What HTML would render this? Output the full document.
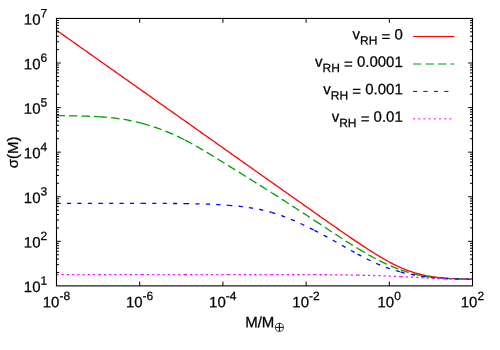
<!DOCTYPE html>
<html><head><meta charset="utf-8"><title>plot</title>
<style>
html,body{margin:0;padding:0;background:#fff;}
body{width:500px;height:350px;overflow:hidden;}
svg{display:block;font-family:"Liberation Sans",sans-serif;font-size:15px;fill:#000;will-change:transform;}
path{fill:none;stroke-width:1;}
.c path{stroke-width:1.3;}
text{stroke:#000;stroke-width:0.25px;}
</style></head><body>
<svg width="500" height="350" viewBox="0 0 500 350">
<rect width="500" height="350" fill="#fff"/>
<g class="c">
<path d="M56.5,30.23 58.0,31.26 59.4,32.29 60.9,33.32 62.3,34.35 63.8,35.38 65.2,36.40 66.7,37.43 68.1,38.46 69.6,39.49 71.1,40.52 72.5,41.55 74.0,42.57 75.4,43.60 76.9,44.63 78.3,45.66 79.8,46.69 81.2,47.72 82.7,48.74 84.1,49.77 85.6,50.80 87.1,51.83 88.5,52.86 90.0,53.89 91.4,54.91 92.9,55.94 94.3,56.97 95.8,58.00 97.2,59.03 98.7,60.06 100.2,61.11 101.7,62.16 103.2,63.21 104.7,64.26 106.1,65.31 107.6,66.37 109.1,67.42 110.6,68.47 112.1,69.52 113.6,70.57 115.1,71.62 116.6,72.67 118.0,73.73 119.5,74.78 121.0,75.83 122.5,76.88 124.0,77.93 125.5,78.98 127.0,80.04 128.5,81.09 129.9,82.14 131.4,83.19 132.9,84.24 134.4,85.29 135.9,86.34 137.4,87.40 138.9,88.45 140.4,89.50 141.8,90.55 143.3,91.60 144.8,92.65 146.3,93.71 147.8,94.76 149.3,95.81 150.8,96.86 152.3,97.91 153.8,98.96 155.2,100.01 156.7,101.07 158.2,102.12 159.7,103.17 161.2,104.22 162.7,105.27 164.2,106.32 165.7,107.37 167.1,108.43 168.6,109.48 170.1,110.53 171.6,111.58 173.1,112.63 174.6,113.68 176.1,114.74 177.6,115.79 179.0,116.84 180.5,117.89 182.0,118.94 183.5,119.99 185.0,121.04 186.5,122.10 188.0,123.15 189.5,124.20 191.0,125.25 192.4,126.30 193.9,127.35 195.4,128.41 196.9,129.46 198.4,130.51 199.9,131.56 201.4,132.61 202.9,133.66 204.3,134.71 205.8,135.77 207.3,136.82 208.8,137.87 210.3,138.92 211.8,139.97 213.3,141.02 214.8,142.08 216.2,143.13 217.7,144.18 219.2,145.23 220.7,146.28 222.2,147.33 223.7,148.38 225.2,149.44 226.7,150.49 228.2,151.54 229.6,152.59 231.1,153.64 232.6,154.69 234.1,155.74 235.6,156.80 237.1,157.85 238.6,158.90 240.1,159.95 241.5,161.00 243.0,162.05 244.5,163.10 246.0,164.16 247.5,165.21 249.0,166.26 250.5,167.31 252.0,168.36 253.4,169.41 254.9,170.46 256.4,171.52 257.9,172.57 259.4,173.62 260.9,174.67 262.4,175.72 263.9,176.77 265.3,177.82 266.8,178.87 268.3,179.93 269.8,180.98 271.3,182.03 272.8,183.08 274.3,184.13 275.8,185.18 277.3,186.23 278.7,187.28 280.2,188.33 281.7,189.39 283.2,190.44 284.7,191.49 286.2,192.54 287.7,193.59 289.2,194.64 290.6,195.69 292.1,196.74 293.6,197.79 295.1,198.84 296.6,199.89 298.1,200.94 299.6,201.99 301.1,203.04 302.5,204.09 304.0,205.14 305.5,206.19 307.0,207.23 308.5,208.28 310.0,209.33 311.5,210.38 313.0,211.43 314.4,212.47 315.9,213.52 317.4,214.57 318.9,215.61 320.4,216.66 321.9,217.70 323.4,218.75 324.9,219.79 326.4,220.83 327.8,221.87 329.3,222.91 330.8,223.95 332.3,224.99 333.8,226.03 335.3,227.07 336.8,228.10 338.3,229.14 339.7,230.17 341.2,231.20 342.7,232.23 344.2,233.26 345.7,234.29 347.2,235.31 348.7,236.33 350.2,237.35 351.6,238.36 353.1,239.38 354.6,240.39 356.1,241.39 357.6,242.39 359.1,243.39 360.6,244.38 362.1,245.37 363.6,246.35 365.0,247.33 366.5,248.30 368.0,249.27 369.5,250.22 371.0,251.17 372.5,252.11 374.0,253.05 375.5,253.97 376.9,254.88 378.4,255.79 379.9,256.68 381.4,257.56 382.9,258.43 384.4,259.28 385.9,260.13 387.4,260.95 388.8,261.76 390.3,262.56 391.8,263.33 393.3,264.10 394.8,264.84 396.3,265.56 397.8,266.26 399.3,266.95 400.7,267.61 402.2,268.25 403.7,268.88 405.2,269.47 406.7,270.05 408.2,270.61 409.7,271.14 411.2,271.65 412.7,272.14 414.1,272.60 415.6,273.05 417.1,273.47 418.6,273.87 420.1,274.25 421.6,274.61 423.1,274.95 424.6,275.27 426.0,275.58 427.5,275.86 429.0,276.13 430.5,276.38 432.0,276.61 433.5,276.83 435.0,277.04 436.5,277.23 437.9,277.41 439.4,277.58 440.9,277.73 442.4,277.88 443.9,278.01 445.3,278.13 446.8,278.24 448.2,278.34 449.6,278.44 451.0,278.53 452.5,278.61 453.9,278.69 455.3,278.76 456.8,278.83 458.2,278.89 459.6,278.94 461.1,279.00 462.5,279.04 463.9,279.09 465.3,279.13 466.8,279.17 468.2,279.20 469.6,279.24 471.1,279.27 472.5,279.30" stroke="#ff0000"/>
<g stroke="#00a000" stroke-dasharray="8.33 4.17"><path d="M56.5,115.52 58.0,115.56 59.4,115.61 60.9,115.65 62.3,115.68 63.8,115.72 65.2,115.75 66.7,115.78 68.1,115.81 69.6,115.83 71.1,115.86 72.5,115.89 74.0,115.91 75.4,115.94 76.9,115.96 78.3,115.99 79.8,116.02 81.2,116.05 82.7,116.09 84.1,116.12 85.6,116.16 87.1,116.20 88.5,116.25 90.0,116.30 91.4,116.35 92.9,116.41 94.3,116.47 95.8,116.54 97.2,116.61 98.7,116.70" stroke-width="1.10"/><path d="M98.7,116.70 100.2,116.78 101.7,116.88 103.2,116.99 104.7,117.10 106.1,117.22 107.6,117.35 109.1,117.49 110.6,117.63 112.1,117.79 113.6,117.96 115.1,118.14 116.6,118.33 118.0,118.53 119.5,118.75 121.0,118.97 122.5,119.21 124.0,119.45 125.5,119.71 127.0,119.98 128.5,120.26 129.9,120.56 131.4,120.86 132.9,121.18 134.4,121.51 135.9,121.85 137.4,122.20 138.9,122.56 140.4,122.94 141.8,123.33" stroke-width="1.16"/><path d="M141.8,123.33 143.3,123.73 144.8,124.14 146.3,124.56 147.8,125.00 149.3,125.45 150.8,125.91 152.3,126.38 153.8,126.87 155.2,127.37 156.7,127.88 158.2,128.41 159.7,128.94 161.2,129.49 162.7,130.05 164.2,130.63 165.7,131.22 167.1,131.82 168.6,132.43 170.1,133.06 171.6,133.70 173.1,134.35 174.6,135.02 176.1,135.69 177.6,136.39 179.0,137.09 180.5,137.81 182.0,138.54 183.5,139.29 185.0,140.05" stroke-width="1.29"/><path d="M185.0,140.05 186.5,140.82 188.0,141.61 189.5,142.40 191.0,143.21 192.4,144.03 193.9,144.85 195.4,145.69 196.9,146.54 198.4,147.39 199.9,148.26 201.4,149.13 202.9,150.00 204.3,150.89 205.8,151.78 207.3,152.67 208.8,153.57 210.3,154.48 211.8,155.38 213.3,156.30 214.8,157.21 216.2,158.13 217.7,159.04 219.2,159.96 220.7,160.88 222.2,161.80 223.7,162.72 225.2,163.65 226.7,164.57 228.2,165.49" stroke-width="1.30"/><path d="M228.2,165.49 229.6,166.41 231.1,167.33 232.6,168.25 234.1,169.17 235.6,170.09 237.1,171.02 238.6,171.94 240.1,172.86 241.5,173.79 243.0,174.71 244.5,175.64 246.0,176.57 247.5,177.50 249.0,178.43 250.5,179.36 252.0,180.29 253.4,181.22 254.9,182.15 256.4,183.09 257.9,184.02 259.4,184.96 260.9,185.90 262.4,186.84 263.9,187.78 265.3,188.72 266.8,189.66 268.3,190.61 269.8,191.55 271.3,192.50" stroke-width="1.30"/><path d="M271.3,192.50 272.8,193.45 274.3,194.39 275.8,195.34 277.3,196.29 278.7,197.25 280.2,198.20 281.7,199.15 283.2,200.11 284.7,201.07 286.2,202.02 287.7,202.98 289.2,203.94 290.6,204.90 292.1,205.87 293.6,206.83 295.1,207.79 296.6,208.76 298.1,209.72 299.6,210.69 301.1,211.66 302.5,212.63 304.0,213.60 305.5,214.57 307.0,215.54 308.5,216.51 310.0,217.49 311.5,218.46 313.0,219.44 314.4,220.41" stroke-width="1.30"/><path d="M314.4,220.41 315.9,221.39 317.4,222.36 318.9,223.34 320.4,224.32 321.9,225.30 323.4,226.27 324.9,227.25 326.4,228.23 327.8,229.21 329.3,230.19 330.8,231.17 332.3,232.15 333.8,233.13 335.3,234.10 336.8,235.08 338.3,236.05 339.7,237.02 341.2,237.99 342.7,238.96 344.2,239.92 345.7,240.88 347.2,241.83 348.7,242.78 350.2,243.73 351.6,244.66 353.1,245.60 354.6,246.52 356.1,247.44 357.6,248.35" stroke-width="1.30"/><path d="M357.6,248.35 359.1,249.26 360.6,250.15 362.1,251.04 363.6,251.92 365.0,252.79 366.5,253.65 368.0,254.50 369.5,255.34 371.0,256.17 372.5,256.99 374.0,257.80 375.5,258.59 376.9,259.37 378.4,260.14 379.9,260.90 381.4,261.64 382.9,262.37 384.4,263.09 385.9,263.79 387.4,264.47 388.8,265.14 390.3,265.79 391.8,266.43 393.3,267.05 394.8,267.66 396.3,268.25 397.8,268.83 399.3,269.39 400.7,269.93" stroke-width="1.30"/><path d="M400.7,269.93 402.2,270.45 403.7,270.96 405.2,271.46 406.7,271.93 408.2,272.39 409.7,272.83 411.2,273.25 412.7,273.66 414.1,274.05 415.6,274.42 417.1,274.77 418.6,275.11 420.1,275.42 421.6,275.72 423.1,276.00 424.6,276.26 426.0,276.51 427.5,276.74 429.0,276.95 430.5,277.15 432.0,277.33 433.5,277.50 435.0,277.66 436.5,277.80 437.9,277.93 439.4,278.05 440.9,278.16 442.4,278.26 443.9,278.35" stroke-width="1.19"/><path d="M443.9,278.35 445.3,278.43 446.8,278.50 448.2,278.57 449.6,278.63 451.0,278.68 452.5,278.73 453.9,278.77 455.3,278.81 456.8,278.84 458.2,278.87 459.6,278.90 461.1,278.93 462.5,278.95 463.9,278.98 465.3,279.00 466.8,279.03 468.2,279.05 469.6,279.08 471.1,279.11 472.5,279.14" stroke-width="1.10"/></g>
<g stroke="#0000ff" stroke-dasharray="4.17 6.25"><path d="M56.5,203.37 58.0,203.37 59.4,203.38 60.9,203.38 62.3,203.38 63.8,203.39 65.2,203.39 66.7,203.39 68.1,203.40 69.6,203.40 71.1,203.40 72.5,203.40 74.0,203.40 75.4,203.40 76.9,203.40 78.3,203.41 79.8,203.41 81.2,203.41 82.7,203.41 84.1,203.40 85.6,203.40 87.1,203.40 88.5,203.40 90.0,203.40 91.4,203.40 92.9,203.40 94.3,203.40 95.8,203.40 97.2,203.39 98.7,203.39" stroke-width="1.08"/><path d="M98.7,203.39 100.2,203.39 101.7,203.39 103.2,203.39 104.7,203.38 106.1,203.38 107.6,203.38 109.1,203.38 110.6,203.38 112.1,203.37 113.6,203.37 115.1,203.37 116.6,203.37 118.0,203.37 119.5,203.37 121.0,203.36 122.5,203.36 124.0,203.36 125.5,203.36 127.0,203.36 128.5,203.36 129.9,203.36 131.4,203.36 132.9,203.36 134.4,203.36 135.9,203.36 137.4,203.36 138.9,203.36 140.4,203.36 141.8,203.36" stroke-width="1.08"/><path d="M141.8,203.36 143.3,203.37 144.8,203.37 146.3,203.37 147.8,203.37 149.3,203.38 150.8,203.38 152.3,203.38 153.8,203.39 155.2,203.39 156.7,203.40 158.2,203.41 159.7,203.41 161.2,203.42 162.7,203.43 164.2,203.43 165.7,203.44 167.1,203.45 168.6,203.46 170.1,203.47 171.6,203.48 173.1,203.49 174.6,203.50 176.1,203.52 177.6,203.53 179.0,203.54 180.5,203.56 182.0,203.57 183.5,203.59 185.0,203.61" stroke-width="1.08"/><path d="M185.0,203.61 186.5,203.63 188.0,203.65 189.5,203.67 191.0,203.70 192.4,203.72 193.9,203.75 195.4,203.78 196.9,203.82 198.4,203.85 199.9,203.89 201.4,203.93 202.9,203.98 204.3,204.02 205.8,204.07 207.3,204.13 208.8,204.18 210.3,204.24 211.8,204.31 213.3,204.38 214.8,204.45 216.2,204.52 217.7,204.60 219.2,204.69 220.7,204.78 222.2,204.87 223.7,204.97 225.2,205.07 226.7,205.18 228.2,205.29" stroke-width="1.10"/><path d="M228.2,205.29 229.6,205.41 231.1,205.53 232.6,205.66 234.1,205.80 235.6,205.94 237.1,206.09 238.6,206.25 240.1,206.41 241.5,206.59 243.0,206.77 244.5,206.96 246.0,207.16 247.5,207.37 249.0,207.59 250.5,207.82 252.0,208.06 253.4,208.31 254.9,208.57 256.4,208.85 257.9,209.14 259.4,209.44 260.9,209.75 262.4,210.08 263.9,210.42 265.3,210.78 266.8,211.15 268.3,211.54 269.8,211.94 271.3,212.36" stroke-width="1.17"/><path d="M271.3,212.36 272.8,212.79 274.3,213.24 275.8,213.71 277.3,214.19 278.7,214.69 280.2,215.21 281.7,215.73 283.2,216.28 284.7,216.84 286.2,217.41 287.7,217.99 289.2,218.59 290.6,219.20 292.1,219.82 293.6,220.45 295.1,221.10 296.6,221.75 298.1,222.42 299.6,223.10 301.1,223.78 302.5,224.48 304.0,225.18 305.5,225.90 307.0,226.62 308.5,227.35 310.0,228.09 311.5,228.83 313.0,229.58 314.4,230.34" stroke-width="1.30"/><path d="M314.4,230.34 315.9,231.11 317.4,231.88 318.9,232.65 320.4,233.44 321.9,234.22 323.4,235.02 324.9,235.82 326.4,236.62 327.8,237.43 329.3,238.25 330.8,239.06 332.3,239.89 333.8,240.72 335.3,241.55 336.8,242.38 338.3,243.22 339.7,244.06 341.2,244.91 342.7,245.75 344.2,246.59 345.7,247.44 347.2,248.28 348.7,249.12 350.2,249.96 351.6,250.79 353.1,251.62 354.6,252.44 356.1,253.26 357.6,254.07" stroke-width="1.30"/><path d="M357.6,254.07 359.1,254.88 360.6,255.67 362.1,256.46 363.6,257.24 365.0,258.01 366.5,258.76 368.0,259.51 369.5,260.24 371.0,260.96 372.5,261.67 374.0,262.36 375.5,263.04 376.9,263.70 378.4,264.34 379.9,264.97 381.4,265.57 382.9,266.17 384.4,266.74 385.9,267.30 387.4,267.84 388.8,268.36 390.3,268.87 391.8,269.36 393.3,269.84 394.8,270.30 396.3,270.75 397.8,271.18 399.3,271.60 400.7,272.00" stroke-width="1.30"/><path d="M400.7,272.00 402.2,272.39 403.7,272.76 405.2,273.12 406.7,273.47 408.2,273.80 409.7,274.12 411.2,274.43 412.7,274.73 414.1,275.01 415.6,275.28 417.1,275.54 418.6,275.79 420.1,276.03 421.6,276.25 423.1,276.47 424.6,276.67 426.0,276.87 427.5,277.05 429.0,277.23 430.5,277.39 432.0,277.55 433.5,277.69 435.0,277.83 436.5,277.96 437.9,278.08 439.4,278.19 440.9,278.30 442.4,278.39 443.9,278.48" stroke-width="1.16"/><path d="M443.9,278.48 445.3,278.56 446.8,278.63 448.2,278.70 449.6,278.76 451.0,278.81 452.5,278.86 453.9,278.91 455.3,278.95 456.8,278.98 458.2,279.01 459.6,279.03 461.1,279.05 462.5,279.07 463.9,279.08 465.3,279.09 466.8,279.09 468.2,279.10 469.6,279.10 471.1,279.09 472.5,279.09" stroke-width="1.09"/></g>
<g stroke="#ff00ff" stroke-dasharray="2.08 3.125"><path d="M56.5,274.58 58.0,274.58 59.4,274.58 60.9,274.58 62.3,274.58 63.8,274.58 65.2,274.58 66.7,274.58 68.1,274.58 69.6,274.58 71.1,274.58 72.5,274.58 74.0,274.58 75.4,274.58 76.9,274.58 78.3,274.58 79.8,274.58 81.2,274.58 82.7,274.58 84.1,274.58 85.6,274.58 87.1,274.58 88.5,274.58 90.0,274.58 91.4,274.58 92.9,274.58 94.3,274.58 95.8,274.58 97.2,274.58 98.7,274.58" stroke-width="1.08"/><path d="M98.7,274.58 100.2,274.58 101.7,274.58 103.2,274.58 104.7,274.58 106.1,274.58 107.6,274.58 109.1,274.58 110.6,274.58 112.1,274.58 113.6,274.58 115.1,274.58 116.6,274.58 118.0,274.58 119.5,274.58 121.0,274.58 122.5,274.58 124.0,274.58 125.5,274.58 127.0,274.58 128.5,274.58 129.9,274.58 131.4,274.58 132.9,274.58 134.4,274.58 135.9,274.58 137.4,274.58 138.9,274.58 140.4,274.58 141.8,274.58" stroke-width="1.08"/><path d="M141.8,274.58 143.3,274.58 144.8,274.58 146.3,274.58 147.8,274.58 149.3,274.58 150.8,274.58 152.3,274.58 153.8,274.58 155.2,274.58 156.7,274.58 158.2,274.58 159.7,274.58 161.2,274.58 162.7,274.58 164.2,274.58 165.7,274.58 167.1,274.58 168.6,274.58 170.1,274.58 171.6,274.58 173.1,274.58 174.6,274.58 176.1,274.58 177.6,274.58 179.0,274.58 180.5,274.58 182.0,274.58 183.5,274.58 185.0,274.58" stroke-width="1.08"/><path d="M185.0,274.58 186.5,274.58 188.0,274.58 189.5,274.58 191.0,274.58 192.4,274.58 193.9,274.58 195.4,274.58 196.9,274.58 198.4,274.58 199.9,274.58 201.4,274.58 202.9,274.58 204.3,274.58 205.8,274.58 207.3,274.58 208.8,274.58 210.3,274.58 211.8,274.58 213.3,274.58 214.8,274.59 216.2,274.59 217.7,274.59 219.2,274.59 220.7,274.59 222.2,274.59 223.7,274.59 225.2,274.59 226.7,274.59 228.2,274.59" stroke-width="1.08"/><path d="M228.2,274.59 229.6,274.59 231.1,274.59 232.6,274.59 234.1,274.59 235.6,274.59 237.1,274.59 238.6,274.59 240.1,274.59 241.5,274.59 243.0,274.59 244.5,274.59 246.0,274.59 247.5,274.59 249.0,274.59 250.5,274.59 252.0,274.59 253.4,274.60 254.9,274.60 256.4,274.60 257.9,274.60 259.4,274.60 260.9,274.60 262.4,274.60 263.9,274.60 265.3,274.60 266.8,274.60 268.3,274.60 269.8,274.61 271.3,274.61" stroke-width="1.08"/><path d="M271.3,274.61 272.8,274.61 274.3,274.61 275.8,274.61 277.3,274.61 278.7,274.62 280.2,274.62 281.7,274.62 283.2,274.62 284.7,274.62 286.2,274.63 287.7,274.63 289.2,274.63 290.6,274.63 292.1,274.64 293.6,274.64 295.1,274.64 296.6,274.65 298.1,274.65 299.6,274.65 301.1,274.66 302.5,274.66 304.0,274.67 305.5,274.67 307.0,274.68 308.5,274.68 310.0,274.69 311.5,274.69 313.0,274.70 314.4,274.71" stroke-width="1.08"/><path d="M314.4,274.71 315.9,274.71 317.4,274.72 318.9,274.73 320.4,274.73 321.9,274.74 323.4,274.75 324.9,274.76 326.4,274.77 327.8,274.78 329.3,274.79 330.8,274.80 332.3,274.82 333.8,274.83 335.3,274.84 336.8,274.86 338.3,274.87 339.7,274.89 341.2,274.90 342.7,274.92 344.2,274.94 345.7,274.96 347.2,274.97 348.7,275.00 350.2,275.02 351.6,275.04 353.1,275.06 354.6,275.09 356.1,275.11 357.6,275.14" stroke-width="1.09"/><path d="M357.6,275.14 359.1,275.17 360.6,275.20 362.1,275.23 363.6,275.26 365.0,275.30 366.5,275.33 368.0,275.37 369.5,275.41 371.0,275.45 372.5,275.49 374.0,275.53 375.5,275.58 376.9,275.62 378.4,275.67 379.9,275.72 381.4,275.77 382.9,275.83 384.4,275.88 385.9,275.94 387.4,276.00 388.8,276.06 390.3,276.12 391.8,276.18 393.3,276.25 394.8,276.31 396.3,276.38 397.8,276.45 399.3,276.52 400.7,276.60" stroke-width="1.10"/><path d="M400.7,276.60 402.2,276.67 403.7,276.74 405.2,276.82 406.7,276.89 408.2,276.97 409.7,277.05 411.2,277.13 412.7,277.21 414.1,277.28 415.6,277.36 417.1,277.44 418.6,277.52 420.1,277.60 421.6,277.67 423.1,277.75 424.6,277.83 426.0,277.90 427.5,277.97 429.0,278.05 430.5,278.12 432.0,278.19 433.5,278.26 435.0,278.32 436.5,278.39 437.9,278.45 439.4,278.51 440.9,278.57 442.4,278.63 443.9,278.68" stroke-width="1.11"/><path d="M443.9,278.68 445.3,278.73 446.8,278.78 448.2,278.83 449.6,278.87 451.0,278.92 452.5,278.96 453.9,279.00 455.3,279.03 456.8,279.07 458.2,279.10 459.6,279.14 461.1,279.17 462.5,279.20 463.9,279.22 465.3,279.25 466.8,279.28 468.2,279.30 469.6,279.32 471.1,279.34 472.5,279.36" stroke-width="1.09"/></g>
</g>
<path d="M56.5,272.48h2.5 M472.5,272.48h-2.5 M56.5,264.63h2.5 M472.5,264.63h-2.5 M56.5,259.06h2.5 M472.5,259.06h-2.5 M56.5,254.74h2.5 M472.5,254.74h-2.5 M56.5,251.21h2.5 M472.5,251.21h-2.5 M56.5,248.23h2.5 M472.5,248.23h-2.5 M56.5,245.64h2.5 M472.5,245.64h-2.5 M56.5,243.36h2.5 M472.5,243.36h-2.5 M56.5,241.32h4.3 M472.5,241.32h-4.3 M56.5,227.91h2.5 M472.5,227.91h-2.5 M56.5,220.06h2.5 M472.5,220.06h-2.5 M56.5,214.49h2.5 M472.5,214.49h-2.5 M56.5,210.17h2.5 M472.5,210.17h-2.5 M56.5,206.64h2.5 M472.5,206.64h-2.5 M56.5,203.65h2.5 M472.5,203.65h-2.5 M56.5,201.07h2.5 M472.5,201.07h-2.5 M56.5,198.79h2.5 M472.5,198.79h-2.5 M56.5,196.75h4.3 M472.5,196.75h-4.3 M56.5,183.33h2.5 M472.5,183.33h-2.5 M56.5,175.48h2.5 M472.5,175.48h-2.5 M56.5,169.91h2.5 M472.5,169.91h-2.5 M56.5,165.59h2.5 M472.5,165.59h-2.5 M56.5,162.06h2.5 M472.5,162.06h-2.5 M56.5,159.08h2.5 M472.5,159.08h-2.5 M56.5,156.49h2.5 M472.5,156.49h-2.5 M56.5,154.21h2.5 M472.5,154.21h-2.5 M56.5,152.17h4.3 M472.5,152.17h-4.3 M56.5,138.76h2.5 M472.5,138.76h-2.5 M56.5,130.91h2.5 M472.5,130.91h-2.5 M56.5,125.34h2.5 M472.5,125.34h-2.5 M56.5,121.02h2.5 M472.5,121.02h-2.5 M56.5,117.49h2.5 M472.5,117.49h-2.5 M56.5,114.50h2.5 M472.5,114.50h-2.5 M56.5,111.92h2.5 M472.5,111.92h-2.5 M56.5,109.64h2.5 M472.5,109.64h-2.5 M56.5,107.60h4.3 M472.5,107.60h-4.3 M56.5,94.18h2.5 M472.5,94.18h-2.5 M56.5,86.33h2.5 M472.5,86.33h-2.5 M56.5,80.76h2.5 M472.5,80.76h-2.5 M56.5,76.44h2.5 M472.5,76.44h-2.5 M56.5,72.91h2.5 M472.5,72.91h-2.5 M56.5,69.93h2.5 M472.5,69.93h-2.5 M56.5,67.34h2.5 M472.5,67.34h-2.5 M56.5,65.06h2.5 M472.5,65.06h-2.5 M56.5,63.02h4.3 M472.5,63.02h-4.3 M56.5,49.61h2.5 M472.5,49.61h-2.5 M56.5,41.76h2.5 M472.5,41.76h-2.5 M56.5,36.19h2.5 M472.5,36.19h-2.5 M56.5,31.87h2.5 M472.5,31.87h-2.5 M56.5,28.34h2.5 M472.5,28.34h-2.5 M56.5,25.35h2.5 M472.5,25.35h-2.5 M56.5,22.77h2.5 M472.5,22.77h-2.5 M56.5,20.49h2.5 M472.5,20.49h-2.5 M139.70,285.9v-4.3 M139.70,18.45v4.3 M222.90,285.9v-4.3 M222.90,18.45v4.3 M306.10,285.9v-4.3 M306.10,18.45v4.3 M389.30,285.9v-4.3 M389.30,18.45v4.3" stroke="#000" stroke-width="1"/>
<rect x="56.5" y="18.45" width="416.0" height="267.45" fill="none" stroke="#000" stroke-width="1.1"/>
<text x="47.2" y="292.10" transform="rotate(0.05 47.2 292.10)" text-anchor="end">10<tspan dy="-7.4" font-size="12">1</tspan></text>
<text x="47.2" y="247.52" transform="rotate(0.05 47.2 247.52)" text-anchor="end">10<tspan dy="-7.4" font-size="12">2</tspan></text>
<text x="47.2" y="202.95" transform="rotate(0.05 47.2 202.95)" text-anchor="end">10<tspan dy="-7.4" font-size="12">3</tspan></text>
<text x="47.2" y="158.37" transform="rotate(0.05 47.2 158.37)" text-anchor="end">10<tspan dy="-7.4" font-size="12">4</tspan></text>
<text x="47.2" y="113.80" transform="rotate(0.05 47.2 113.80)" text-anchor="end">10<tspan dy="-7.4" font-size="12">5</tspan></text>
<text x="47.2" y="69.22" transform="rotate(0.05 47.2 69.22)" text-anchor="end">10<tspan dy="-7.4" font-size="12">6</tspan></text>
<text x="47.2" y="24.65" transform="rotate(0.05 47.2 24.65)" text-anchor="end">10<tspan dy="-7.4" font-size="12">7</tspan></text>
<text x="56.40" y="307.3" transform="rotate(0.05 56.40 307.3)" text-anchor="middle">10<tspan dy="-7.4" font-size="12">-8</tspan></text>
<text x="139.60" y="307.3" transform="rotate(0.05 139.60 307.3)" text-anchor="middle">10<tspan dy="-7.4" font-size="12">-6</tspan></text>
<text x="222.80" y="307.3" transform="rotate(0.05 222.80 307.3)" text-anchor="middle">10<tspan dy="-7.4" font-size="12">-4</tspan></text>
<text x="306.00" y="307.3" transform="rotate(0.05 306.00 307.3)" text-anchor="middle">10<tspan dy="-7.4" font-size="12">-2</tspan></text>
<text x="389.20" y="307.3" transform="rotate(0.05 389.20 307.3)" text-anchor="middle">10<tspan dy="-7.4" font-size="12">0</tspan></text>
<text x="472.40" y="307.3" transform="rotate(0.05 472.40 307.3)" text-anchor="middle">10<tspan dy="-7.4" font-size="12">2</tspan></text>
<text x="402.8" y="39.40" transform="rotate(0.05 402.8 39.40)" text-anchor="end">v<tspan dy="5.2" font-size="12">RH</tspan><tspan dy="-3.1"> =</tspan><tspan dy="-2.1"> 0</tspan></text>
<path d="M413,36.5H454.3" stroke="#ff0000"/>
<text x="402.8" y="66.90" transform="rotate(0.05 402.8 66.90)" text-anchor="end">v<tspan dy="5.2" font-size="12">RH</tspan><tspan dy="-3.1"> =</tspan><tspan dy="-2.1"> 0.0001</tspan></text>
<path d="M413,64.0H454.3" stroke="#00a000" stroke-dasharray="8.33 4.17"/>
<text x="402.8" y="94.30" transform="rotate(0.05 402.8 94.30)" text-anchor="end">v<tspan dy="5.2" font-size="12">RH</tspan><tspan dy="-3.1"> =</tspan><tspan dy="-2.1"> 0.001</tspan></text>
<path d="M413,91.4H454.3" stroke="#0000ff" stroke-dasharray="4.17 6.25"/>
<text x="402.8" y="121.75" transform="rotate(0.05 402.8 121.75)" text-anchor="end">v<tspan dy="5.2" font-size="12">RH</tspan><tspan dy="-3.1"> =</tspan><tspan dy="-2.1"> 0.01</tspan></text>
<path d="M413,118.85H454.3" stroke="#ff00ff" stroke-dasharray="2.08 3.125"/>
<text transform="translate(17.7,152.3) rotate(-90)" text-anchor="middle">σ(M)</text>
<text x="245.2" y="327.2" transform="rotate(0.05 245.2 327.2)">M/M</text>
<g stroke="#000" stroke-width="0.7" fill="none"><circle cx="279.4" cy="327.35" r="4.05"/><path d="M275.35,327.35h8.1M279.4,323.3v8.1"/></g>
</svg>
</body></html>
